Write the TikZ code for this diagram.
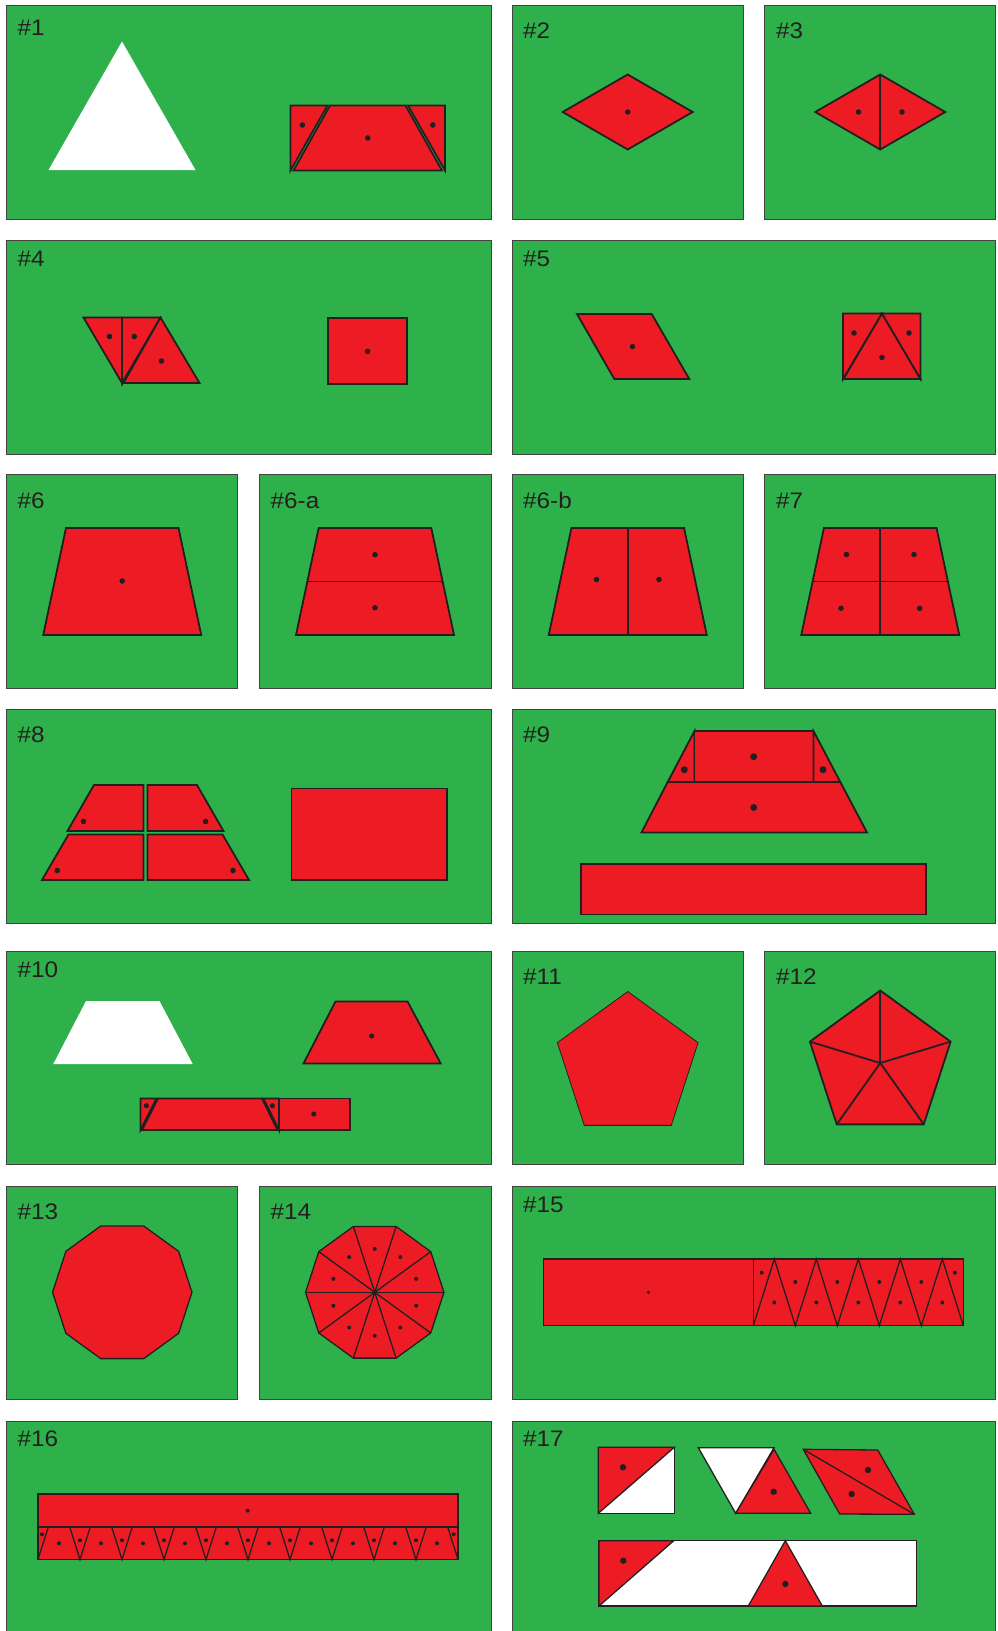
\documentclass[tikz,border=0pt]{standalone}
\usepackage{fontspec}
\setmainfont{Liberation Sans}
\newfontfamily\lblfont[FakeStretch=1.08]{Liberation Sans}
\definecolor{bg}{RGB}{46,177,75}
\definecolor{rd}{RGB}{237,28,36}
\definecolor{dk}{RGB}{35,31,32}
\begin{document}
\begin{tikzpicture}[x=1pt,y=-1pt,
  panel/.style={fill=bg, draw=dk!85, line width=1pt},
  pc/.style={fill=rd, draw=dk, line width=1.8pt, line join=miter},
  pcs/.style={fill=rd, draw=dk, line width=1.3pt, line join=miter},
  pct/.style={fill=rd, draw=dk, line width=0.8pt, line join=miter},
  wp/.style={fill=white, draw=dk, line width=1.3pt, line join=miter},
  ln/.style={draw=dk, line width=1.8pt},
  lns/.style={draw=dk, line width=1.3pt},
  lbl/.style={anchor=base west, inner sep=0pt, text=dk, font=\lblfont\fontsize{22.5}{26}\selectfont}]
\fill[white] (0,0) rectangle (997,1631);
\useasboundingbox (0,0) rectangle (997,1631);
\clip (0,0) rectangle (997,1631);
% ---------- panels ----------
\draw[panel] (6.5,5.5) rectangle (491,219);
\draw[panel] (512,5.5) rectangle (743.5,219);
\draw[panel] (764.5,5.5) rectangle (995.5,219);
\draw[panel] (6.5,240.5) rectangle (491,454);
\draw[panel] (512,240.5) rectangle (995.5,454);
\draw[panel] (6.5,474.5) rectangle (237.8,688);
\draw[panel] (259,474.5) rectangle (491,688);
\draw[panel] (512,474.5) rectangle (743.5,688);
\draw[panel] (764.5,474.5) rectangle (995.5,688);
\draw[panel] (6.5,709.5) rectangle (491,923);
\draw[panel] (512,709.5) rectangle (995.5,923);
\draw[panel] (6.5,951) rectangle (491,1164.5);
\draw[panel] (512,951) rectangle (743.5,1164.5);
\draw[panel] (764.5,951) rectangle (995.5,1164.5);
\draw[panel] (6.5,1186) rectangle (237.8,1399.5);
\draw[panel] (259,1186) rectangle (491,1399.5);
\draw[panel] (512,1186) rectangle (995.5,1399.5);
\draw[panel] (6.5,1421) rectangle (491,1700);
\draw[panel] (512,1421) rectangle (995.5,1700);
% ---------- labels ----------
\node[lbl] (l1) at (17.3,35) {\#1};
\node[lbl] (l2) at (523,38.3) {\#2};
\node[lbl] (l3) at (776,38.3) {\#3};
\node[lbl] (l4) at (17.3,266) {\#4};
\node[lbl] (l5) at (523,266) {\#5};
\node[lbl] (l6) at (17.3,508) {\#6};
\node[lbl] (l6a) at (270.5,508) {\#6-a};
\node[lbl] (l6b) at (523,508) {\#6-b};
\node[lbl] (l7) at (776,508) {\#7};
\node[lbl] (l8) at (17.3,742.7) {\#8};
\node[lbl] (l9) at (523,742.7) {\#9};
\node[lbl] (l10) at (17.3,977.3) {\#10};
\node[lbl] (l11) at (523,984.3) {\#11};
\node[lbl] (l12) at (776,984.3) {\#12};
\node[lbl] (l13) at (17.3,1219) {\#13};
\node[lbl] (l14) at (270.5,1219) {\#14};
\node[lbl] (l15) at (523,1212.3) {\#15};
\node[lbl] (l16) at (17.3,1446.7) {\#16};
\node[lbl] (l17) at (523,1446.7) {\#17};
% ---------- #1 ----------
\fill[white] (48.5,170) -- (122,41.5) -- (195.5,170) -- cycle;
\filldraw[pc] (290.5,105.5) -- (327.5,105.5) -- (290.5,170.5) -- cycle;
\filldraw[pc] (330,105.5) -- (405.5,105.5) -- (442,170.5) -- (293.5,170.5) -- cycle;
\filldraw[pc] (408,105.5) -- (445,105.5) -- (445,170.5) -- cycle;
\foreach \p in {(302.4,125),(367.8,138),(432.8,125)} \fill[dk] \p circle (2.8pt);
% ---------- #2 ----------
\filldraw[pc] (562.7,112) -- (627.7,74.5) -- (692.7,112) -- (627.7,149.5) -- cycle;
\fill[dk] (627.7,112) circle (2.8pt);
% ---------- #3 ----------
\filldraw[pc] (815.25,112) -- (880.25,74.5) -- (945.25,112) -- (880.25,149.5) -- cycle;
\draw[ln] (880.25,74.5) -- (880.25,149.5);
\foreach \p in {(858.5,112),(902,112)} \fill[dk] \p circle (2.8pt);
% ---------- #4 ----------
\filldraw[pc] (83.5,317.5) -- (122,317.5) -- (122,383) -- cycle;
\filldraw[pc] (122,317.5) -- (160.5,317.5) -- (122,383) -- cycle;
\filldraw[pc] (160.5,317.5) -- (199.5,383) -- (123.5,383) -- cycle;
\filldraw[pc] (328,318.3) rectangle (407.3,384.3);
\foreach \p in {(109.5,336.5),(134.3,336.5),(161.5,361),(367.6,351.3)} \fill[dk] \p circle (2.8pt);
% ---------- #5 ----------
\filldraw[pc] (577,314) -- (651.7,314) -- (689.3,379) -- (614.3,379) -- cycle;
\filldraw[pc] (843,313.5) -- (882,313.5) -- (843,379) -- cycle;
\filldraw[pc] (882,313.5) -- (920.5,379) -- (843.5,379) -- cycle;
\filldraw[pc] (882,313.5) -- (920.5,313.5) -- (920.5,379) -- cycle;
\foreach \p in {(632.5,346.6),(854,333),(909,333),(882,357.5)} \fill[dk] \p circle (2.8pt);
% ---------- #6 ----------
\filldraw[pc] (66,528) -- (178.5,528) -- (201.25,635) -- (43.25,635) -- cycle;
\fill[dk] (122.25,581) circle (2.8pt);
% ---------- #6-a ----------
\filldraw[pc] (318.7,528) -- (431.3,528) -- (454,635) -- (296,635) -- cycle;
\draw[ln] (307.35,581.5) -- (442.65,581.5);
\foreach \p in {(375,554.7),(375,607.7)} \fill[dk] \p circle (2.8pt);
% ---------- #6-b ----------
\filldraw[pc] (571.45,528) -- (684.05,528) -- (706.75,635) -- (548.75,635) -- cycle;
\draw[ln] (627.75,528) -- (627.75,635);
\foreach \p in {(596.5,579.5),(659,579.5)} \fill[dk] \p circle (2.8pt);
% ---------- #7 ----------
\filldraw[pc] (823.95,528) -- (936.55,528) -- (959.25,635) -- (801.25,635) -- cycle;
\draw[ln] (812.6,581.5) -- (947.9,581.5);
\draw[ln] (880.25,528) -- (880.25,635);
\foreach \p in {(846.5,554.5),(914,554.5),(841,608.3),(919.7,608.3)} \fill[dk] \p circle (2.8pt);
% ---------- #8 ----------
\filldraw[pc] (94,785) -- (143.5,785) -- (143.5,831) -- (67.5,831) -- cycle;
\filldraw[pc] (147.5,785) -- (197,785) -- (223.5,831) -- (147.5,831) -- cycle;
\filldraw[pc] (68.5,834.5) -- (143.5,834.5) -- (143.5,880) -- (42,880) -- cycle;
\filldraw[pc] (147.5,834.5) -- (222.5,834.5) -- (249,880) -- (147.5,880) -- cycle;
\filldraw[pc] (291.5,788.5) rectangle (447,880);
\foreach \p in {(83.4,821.5),(205.6,821.5),(57.3,870.5),(233,870.5)} \fill[dk] \p circle (2.8pt);
% ---------- #9 ----------
\filldraw[pc] (694.5,731) -- (694.5,782) -- (667.7,782) -- cycle;
\filldraw[pc] (694.5,731) rectangle (813.5,782);
\filldraw[pc] (813.5,731) -- (840.3,782) -- (813.5,782) -- cycle;
\filldraw[pc] (667.7,782) -- (840.3,782) -- (867,832.5) -- (641.5,832.5) -- cycle;
\filldraw[pc] (581,864) rectangle (926,914.5);
\foreach \p in {(753.7,756.7),(684.3,769.7),(823,769.7),(753.7,807.5)} \fill[dk] \p circle (3.5pt);
% ---------- #10 ----------
\fill[white] (86,1001) -- (159.5,1001) -- (192.7,1064) -- (53.3,1064) -- cycle;
\filldraw[pc] (335.5,1001.5) -- (407.5,1001.5) -- (440.7,1063.5) -- (303.5,1063.5) -- cycle;
\filldraw[pc] (140.5,1098.5) -- (156.5,1098.5) -- (140.5,1130) -- cycle;
\filldraw[pc] (158,1098.5) -- (262,1098.5) -- (277.5,1130) -- (142,1130) -- cycle;
\filldraw[pc] (263.5,1098.5) -- (279,1098.5) -- (279,1130) -- cycle;
\filldraw[pc] (279,1098.5) rectangle (350,1130);
\foreach \p in {(371.7,1036),(146.4,1105.7),(272.4,1105.7),(313.8,1114)} \fill[dk] \p circle (2.6pt);
% ---------- #11 ----------
\filldraw[pct, shift={(627.75,1065.5)}] (270:74) -- (342:74) -- (54:74) -- (126:74) -- (198:74) -- cycle;
% ---------- #12 ----------
\begin{scope}[shift={(880.25,1064.5)}]
\filldraw[pc] (270:74) -- (342:74) -- (54:74) -- (126:74) -- (198:74) -- cycle;
\foreach \a in {270,342,54,126,198} \draw[ln] (0,-1.5) -- (\a:74);
\end{scope}
% ---------- #13 ----------
\filldraw[pcs, shift={(122.25,1292.3)}] (0:69.7) -- (36:69.7) -- (72:69.7) -- (108:69.7) -- (144:69.7) -- (180:69.7) -- (216:69.7) -- (252:69.7) -- (288:69.7) -- (324:69.7) -- cycle;
% ---------- #14 ----------
\begin{scope}[shift={(374.75,1292.3)}]
\filldraw[pcs] (0:69.2) -- (36:69.2) -- (72:69.2) -- (108:69.2) -- (144:69.2) -- (180:69.2) -- (216:69.2) -- (252:69.2) -- (288:69.2) -- (324:69.2) -- cycle;
\foreach \a in {0,36,...,324} \draw[lns] (0,0) -- (\a:69.2);
\foreach \a in {18,54,...,342} \fill[dk] (\a:43.5) circle (2pt);
\fill[dk] (0,0) circle (2pt);
\end{scope}
% ---------- #15 ----------
\filldraw[pcs] (543.7,1259) rectangle (753.3,1325.7);
\filldraw[pcs] (753.3,1259) rectangle (963.3,1325.7);
\draw[lns] (753.3,1325.7) -- (774.3,1259) -- (795.3,1325.7) -- (816.3,1259) -- (837.3,1325.7) -- (858.3,1259) -- (879.3,1325.7) -- (900.3,1259) -- (921.3,1325.7) -- (942.3,1259) -- (963.3,1325.7);
\fill[dk] (648.5,1292.3) circle (1.8pt);
\foreach \p in {(761.7,1272.7),(954.9,1272.7)} \fill[dk] \p circle (2pt);
\foreach \k in {0,...,4} \fill[dk] (774.3+42*\k,1302.5) circle (2pt);
\foreach \k in {0,...,3} \fill[dk] (795.3+42*\k,1282) circle (2pt);
% ---------- #16 ----------
\filldraw[pcs] (38,1494) rectangle (458,1527);
\filldraw[pcs] (38,1527) rectangle (458,1559.5);
\draw[lns] (38,1559.5) -- (48.3,1527);
\draw[lns] (458,1559.5) -- (447.7,1527);
\foreach \k in {1,...,9} \draw[lns] (38+42*\k-10.3,1527) -- (38+42*\k,1559.5) -- (38+42*\k+10.3,1527);
\fill[dk] (247.7,1510.7) circle (2pt);
\foreach \p in {(42,1534.3),(453.7,1534.3)} \fill[dk] \p circle (2pt);
\foreach \k in {1,...,9} \fill[dk] (38+42*\k,1540.3) circle (2pt);
\foreach \k in {0,...,9} \fill[dk] (59+42*\k,1543.3) circle (2pt);
% ---------- #17 ----------
\filldraw[wp] (598.3,1447.3) rectangle (674.3,1513.3);
\filldraw[pcs] (598.3,1447.3) -- (674.3,1447.3) -- (598.3,1513.3) -- cycle;
\filldraw[wp] (698.3,1447.7) -- (774,1447.7) -- (735.7,1513.3) -- cycle;
\filldraw[pcs] (774,1449.3) -- (810.7,1513.3) -- (735.7,1513.3) -- cycle;
\filldraw[pcs] (803.3,1449.3) -- (877.7,1450) -- (914.3,1514.3) -- (839.7,1514) -- cycle;
\draw[lns] (803.3,1449.3) -- (914.3,1514.3);
\filldraw[wp] (599,1540.7) rectangle (916.7,1606);
\filldraw[pcs] (599,1540.7) -- (673.7,1540.7) -- (599,1606) -- cycle;
\filldraw[pcs] (785.3,1540.7) -- (822.3,1606) -- (748.3,1606) -- cycle;
\foreach \p in {(623,1467.3),(773.7,1491.7),(868,1470),(851.7,1494),(623.3,1560.7),(785.3,1584)} \fill[dk] \p circle (3.2pt);
\end{tikzpicture}
\end{document}
